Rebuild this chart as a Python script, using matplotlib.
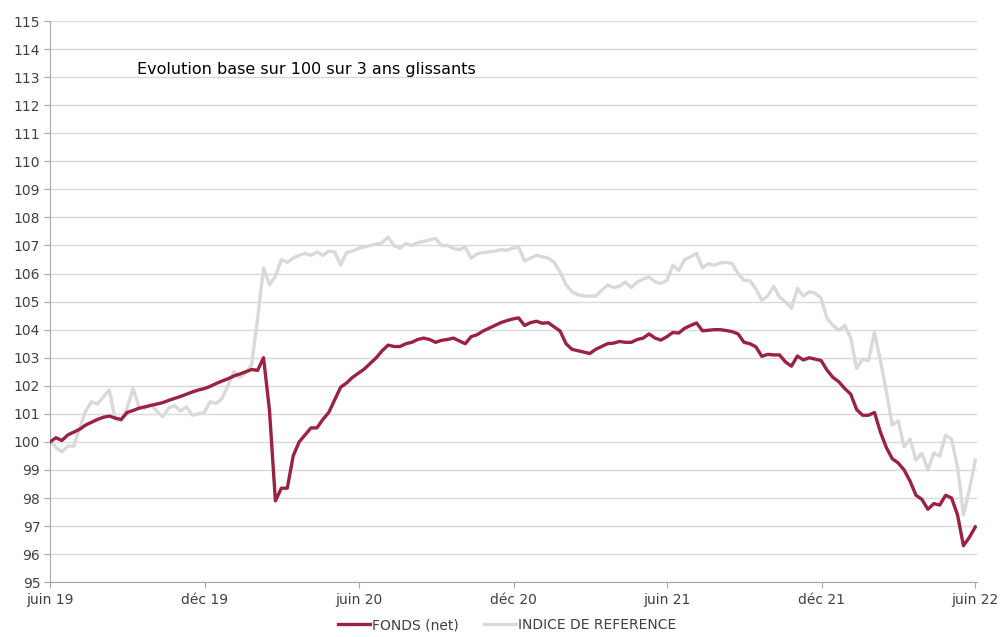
import numpy as np
import pandas as pd
import matplotlib
matplotlib.use('Agg')
import matplotlib.pyplot as plt
import matplotlib.dates as mdates

# weekly readings, juin 2019 -> juin 2022
start_date = '2019-06-01'
end_date = '2022-06-01'

fonds = [100.0, 100.15, 100.05, 100.25, 100.35, 100.45, 100.6, 100.7, 100.8, 100.88,
         100.92, 100.85, 100.8, 101.05, 101.12, 101.2, 101.25, 101.3, 101.35, 101.4,
         101.48, 101.55, 101.62, 101.7, 101.78, 101.85, 101.9, 101.98, 102.08, 102.17,
         102.25, 102.35, 102.42, 102.5, 102.58, 102.55, 103.0, 101.13, 97.9, 98.35,
         98.35, 99.5, 100.0, 100.25, 100.5, 100.5, 100.8, 101.05, 101.5, 101.95,
         102.1, 102.3, 102.45, 102.6, 102.8, 103.0, 103.25, 103.45, 103.4, 103.4,
         103.5, 103.55, 103.65, 103.7, 103.65, 103.55, 103.62, 103.65, 103.7, 103.6,
         103.5, 103.75, 103.82, 103.95, 104.05, 104.15, 104.25, 104.32, 104.38, 104.42,
         104.15, 104.25, 104.3, 104.23, 104.25, 104.1, 103.95, 103.5, 103.3, 103.25,
         103.2, 103.15, 103.3, 103.4, 103.5, 103.52, 103.58, 103.55, 103.55, 103.65,
         103.7, 103.85, 103.7, 103.63, 103.75, 103.9, 103.88, 104.05, 104.15, 104.24,
         103.96, 103.98, 104.0, 104.0, 103.97, 103.93, 103.85, 103.55, 103.5, 103.39,
         103.05, 103.12, 103.1, 103.1, 102.85, 102.7, 103.06, 102.92, 103.0, 102.95,
         102.9, 102.56, 102.3, 102.14, 101.9, 101.7, 101.15, 100.95, 100.95, 101.05,
         100.35, 99.8, 99.4, 99.25, 99.0, 98.6, 98.1, 97.95, 97.6, 97.8,
         97.75, 98.1, 98.0, 97.4, 96.3, 96.6, 96.97]

indice = [100.05, 99.8, 99.65, 99.85, 99.85, 100.5, 101.1, 101.43, 101.35, 101.6,
          101.85, 100.8, 100.75, 101.2, 101.9, 101.25, 101.2, 101.35, 101.1, 100.9,
          101.2, 101.3, 101.1, 101.25, 100.95, 101.0, 101.05, 101.43, 101.37, 101.55,
          102.0, 102.5, 102.3, 102.45, 102.75, 104.4, 106.2, 105.6, 105.9, 106.5,
          106.4, 106.55, 106.65, 106.72, 106.65, 106.77, 106.65, 106.8, 106.77, 106.3,
          106.75, 106.8, 106.9, 106.95, 107.0, 107.05, 107.1, 107.3, 107.0, 106.9,
          107.07, 107.0, 107.1, 107.15, 107.2, 107.25, 107.0, 107.0, 106.9, 106.85,
          106.95, 106.55, 106.7, 106.75, 106.77, 106.8, 106.85, 106.83, 106.9, 106.95,
          106.45, 106.55, 106.65, 106.6, 106.55, 106.4, 106.05, 105.6, 105.35, 105.25,
          105.2, 105.2, 105.2, 105.4, 105.59, 105.5, 105.55, 105.7, 105.5, 105.7,
          105.8, 105.88, 105.7, 105.65, 105.75, 106.3, 106.1, 106.5, 106.6, 106.72,
          106.2, 106.35, 106.3, 106.38, 106.4, 106.36, 106.0, 105.75, 105.75, 105.45,
          105.05, 105.2, 105.55, 105.15, 104.99, 104.76, 105.47, 105.2, 105.35, 105.3,
          105.12, 104.4, 104.15, 103.98, 104.15, 103.7, 102.62, 102.95, 102.9, 103.9,
          102.9, 101.8, 100.6, 100.75, 99.83, 100.1, 99.35, 99.6, 99.0, 99.6,
          99.5, 100.24, 100.1, 99.1, 97.4, 98.3, 99.35]

tick_dates = ['2019-06-01', '2019-12-01', '2020-06-01', '2020-12-01',
              '2021-06-01', '2021-12-01', '2022-06-01']
tick_labels = ['juin 19', 'déc 19', 'juin 20', 'déc 20', 'juin 21', 'déc 21', 'juin 22']

dates = pd.date_range(start_date, end_date, periods=len(fonds))

plt.rcParams['font.family'] = ['DejaVu Sans']

fig = plt.figure(figsize=(10, 6.37), dpi=100)
ax = fig.add_axes([0.05, 0.086, 0.927, 0.881])

ax.plot(dates, indice, color='#d9d9d9', lw=2.4, label='INDICE DE REFERENCE', zorder=3)
ax.plot(dates, fonds, color='#9b2241', lw=2.4, label='FONDS (net)', zorder=4)

ax.set_ylim(95, 115)
ax.set_yticks(range(95, 116))
ax.set_xlim(pd.Timestamp('2019-06-01'), pd.Timestamp('2022-06-03'))
ax.set_xticks(pd.to_datetime(tick_dates))
ax.set_xticklabels(tick_labels)

ax.grid(axis='y', color='#d9d9d9', lw=1, zorder=0)
ax.set_axisbelow(True)
for s in ['top', 'right']:
    ax.spines[s].set_visible(False)
for s in ['left', 'bottom']:
    ax.spines[s].set_color('#a6a6a6')
ax.tick_params(axis='both', colors='#a6a6a6', labelcolor='#404040', labelsize=10, length=4)
ax.tick_params(axis='y', pad=3)

ax.text(0.094, 0.905, 'Evolution base sur 100 sur 3 ans glissants', transform=ax.transAxes,
        fontsize=11.5, color='black')

h, l = ax.get_legend_handles_labels()
fig.legend(h[::-1], l[::-1], loc='lower center', bbox_to_anchor=(0.507, -0.012), ncol=2,
           frameon=False, fontsize=10, handlelength=2.3, handletextpad=0.15,
           columnspacing=1.8, labelcolor='#404040')

fig.savefig('out.png', dpi=100)
